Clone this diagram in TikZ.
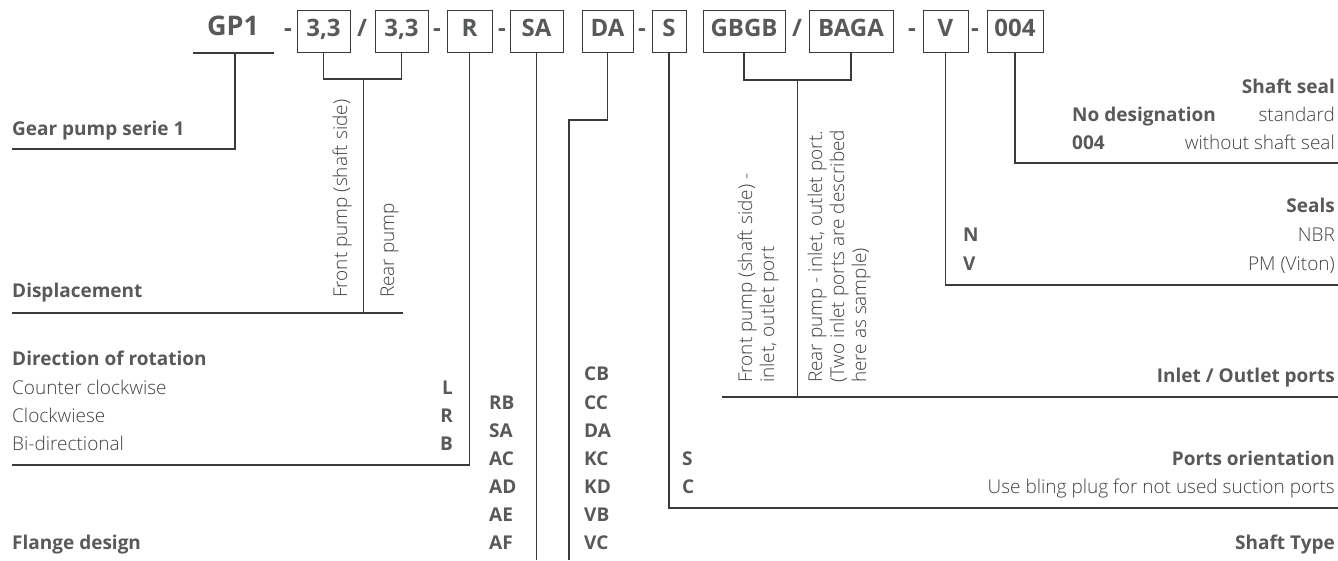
\documentclass[tikz,border=0pt]{standalone}
\usepackage{fontspec}
\setmainfont{Open Sans}
\newfontfamily\pumplight{Open Sans}[UprightFont=* Light]
\usetikzlibrary{positioning}
\definecolor{pumpgray}{HTML}{58595B}
\definecolor{pumpdark}{HTML}{404143}
\definecolor{pumpline}{HTML}{3A3A3A}
\tikzset{
  % typkod
  cb/.style={draw=pumpline,line width=1pt,minimum height=42pt,inner sep=0pt,
             text height=17pt,text depth=7pt,
             font=\fontsize{24}{28}\selectfont\bfseries,text=pumpgray},
  cs/.style={inner sep=0pt,anchor=base,font=\fontsize{24}{28}\selectfont\bfseries,
             text=pumpgray},
  % texter
  hd/.style={inner sep=0pt,font=\fontsize{19}{23}\selectfont\bfseries,text=pumpgray},
  tx/.style={inner sep=0pt,font=\fontsize{19}{23}\selectfont\pumplight,text=pumpdark},
  vt/.style={tx,rotate=90,anchor=base west},
  ln/.style={draw=pumpline,line width=1.2pt},
}
\begin{document}
\begin{tikzpicture}[x=1pt,y=-1pt]
\useasboundingbox (0,0) rectangle (1338,560);
  % kodrad
  \node[cs,font=\fontsize{27}{32}\selectfont\bfseries] (gp1) at (233,35) {GP1};
  \node[cs] (m1) at (288,36) {-};
  \node[cb,minimum width=53pt] (fp) at (323.5,31) {3,3};
  \node[cs] (sl1) at (362,36) {/};
  \node[cb,minimum width=53pt] (rp) at (401.5,31) {3,3};
  \node[cs] (m2) at (437,36) {-};
  \node[cb,minimum width=45pt] (rot) at (469.5,31) {R};
  \node[cs] (m3) at (502,36) {-};
  \node[cb,minimum width=53pt] (fl) at (536.5,31) {SA};
  \node[cb,minimum width=51pt] (sh) at (607.5,31) {DA};
  \node[cs] (m4) at (642,36) {-};
  \node[cb,minimum width=34pt] (po) at (669,31) {S};
  \node[cb,minimum width=82pt] (pf) at (744,31) {GBGB};
  \node[cs] (sl2) at (797,36) {/};
  \node[cb,minimum width=84pt] (pr) at (851,31) {BAGA};
  \node[cs] (m5) at (912,36) {-};
  \node[cb,minimum width=45pt] (se) at (945.5,31) {V};
  \node[cs] (m6) at (975,36) {-};
  \node[cb,minimum width=56pt] (ss) at (1015,31) {004};
  % GP1
  \coordinate (gpa) at (193,53);
  \coordinate (gpb) at (274,53);
  \coordinate (gpm) at (235,53);
  \coordinate (gpe) at (12,149);
  \draw[ln] (gpa) -- (gpb);
  \draw[ln] (gpm) |- (gpe);
  \node[hd,anchor=base west] (gpt) at (12,135) {Gear pump serie 1};
  % deplacement
  \coordinate (dsp) at (363.5,79);
  \coordinate (dspa) at (12,313);
  \coordinate (dspb) at (403,313);
  \draw[ln] (fp.south) |- (dsp) -| (rp.south);
  \draw[ln] (dspa) -- (dspb);
  \draw[ln] (dsp) -- (dsp |- dspa);
  \node[hd,anchor=base west] (dspt) at (12,297) {Displacement};
  \node[vt] (dspf) at (347,298) {Front pump (shaft side)};
  \node[vt] (dspr) at (394,298) {Rear pump};
  % rotation
  \coordinate (rote) at (12,465);
  \draw[ln] (rot.south) |- (rote);
  \node[hd,anchor=base west] (rott) at (12,365) {Direction of rotation};
  \node[tx,anchor=base west] (rot1) at (12,394) {Counter clockwise};
  \node[tx,anchor=base west] (rot2) at (12,422) {Clockwiese};
  \node[tx,anchor=base west] (rot3) at (12,450) {Bi-directional};
  \node[hd,anchor=base east] (rotL) at (453,394) {L};
  \node[hd,anchor=base east] (rotR) at (453,422) {R};
  \node[hd,anchor=base east] (rotB) at (453,450) {B};
  % fläns
  \coordinate (fle) at (536.5,560);
  \draw[ln] (fl.south) -- (fle);
  \node[hd,anchor=base west] (flt) at (12,549) {Flange design};
  \node[hd,anchor=base west] (fl1) at (489,409) {RB};
  \node[hd,anchor=base west] (fl2) at (489,437) {SA};
  \node[hd,anchor=base west] (fl3) at (489,465) {AC};
  \node[hd,anchor=base west] (fl4) at (489,493) {AD};
  \node[hd,anchor=base west] (fl5) at (489,521) {AE};
  \node[hd,anchor=base west] (fl6) at (489,549) {AF};
  % axel
  \coordinate (shk) at (569,120);
  \coordinate (she) at (569,560);
  \draw[ln] (sh.south) |- (shk) -- (she);
  \node[hd,anchor=base east] (sht) at (1335,549) {Shaft Type};
  \node[hd,anchor=base west] (sh1) at (584,380) {CB};
  \node[hd,anchor=base west] (sh2) at (584,409) {CC};
  \node[hd,anchor=base west] (sh3) at (584,437) {DA};
  \node[hd,anchor=base west] (sh4) at (584,465) {KC};
  \node[hd,anchor=base west] (sh5) at (584,493) {KD};
  \node[hd,anchor=base west] (sh6) at (584,521) {VB};
  \node[hd,anchor=base west] (sh7) at (584,549) {VC};
  % portriktning
  \coordinate (poe) at (1338,508);
  \draw[ln] (po.south) |- (poe);
  \node[hd,anchor=base west] (poS) at (682,465) {S};
  \node[hd,anchor=base west] (poC) at (682,493) {C};
  \node[hd,anchor=base east] (pot) at (1335,465) {Ports orientation};
  \node[tx,anchor=base east] (pod) at (1335,493) {Use bling plug for not used suction ports};
  % portar
  \coordinate (ptm) at (797.5,80);
  \coordinate (pta) at (722,397);
  \coordinate (ptb) at (1338,397);
  \draw[ln] (pf.south) |- (ptm) -| (pr.south);
  \draw[ln] (pta) -- (ptb);
  \draw[ln] (ptm) -- (ptm |- pta);
  \node[hd,anchor=base east] (ptt) at (1335,382) {Inlet / Outlet ports};
  \node[vt] (ptf1) at (752,383) {Front pump (shaft side) -};
  \node[vt] (ptf2) at (774,383) {inlet, outlet port};
  \node[vt] (ptr1) at (822,383) {Rear pump - inlet, outlet port.};
  \node[vt] (ptr2) at (844,383) {(Two inlet ports are described};
  \node[vt] (ptr3) at (866,383) {here as sample)};
  % tätningar
  \coordinate (see) at (1338,285);
  \draw[ln] (se.south) |- (see);
  \node[hd,anchor=base east] (set) at (1335,212) {Seals};
  \node[hd,anchor=base west] (seN) at (963,241) {N};
  \node[hd,anchor=base west] (seV) at (963,270) {V};
  \node[tx,anchor=base east] (se1) at (1335,241) {NBR};
  \node[tx,anchor=base east] (se2) at (1335,270) {PM (Viton)};
  % axeltätning
  \coordinate (sse) at (1338,163);
  \draw[ln] (ss.south) |- (sse);
  \node[hd,anchor=base east] (sst) at (1335,93) {Shaft seal};
  \node[hd,anchor=base west] (ssN) at (1072,121) {No designation};
  \node[hd,anchor=base west] (ss0) at (1072,149) {004};
  \node[tx,anchor=base east] (ss1) at (1335,121) {standard};
  \node[tx,anchor=base east] (ss2) at (1335,149) {without shaft seal};
\end{tikzpicture}
\end{document}
